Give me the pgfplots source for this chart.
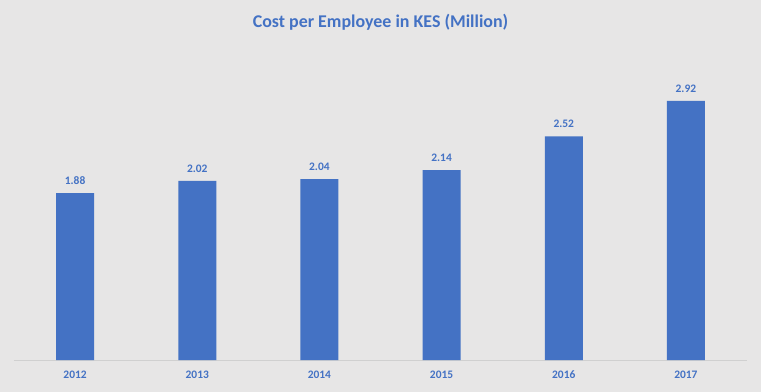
\documentclass[border=0pt]{standalone}
\usepackage{pgfplots}
\pgfplotsset{compat=1.18}
\usepackage{fontspec}
\setmainfont{Carlito}
\definecolor{bg}{HTML}{E7E6E6}
\definecolor{barblue}{HTML}{4472C4}
\definecolor{axgray}{HTML}{D0D0D0}
\begin{document}
\begin{tikzpicture}
\fill[bg] (-14bp,-32bp) rectangle (747bp,360bp);
\begin{axis}[
  scale only axis,
  width=733bp, height=292.71bp,
  xmin=-0.5, xmax=5.5, ymin=0, ymax=3.3,
  axis line style={draw=none},
  axis x line*=bottom,
  axis y line=none,
  xtick=data,
  xticklabels={2012,2013,2014,2015,2016,2017},
  xtick style={draw=none},
  xticklabel style={font=\bfseries\fontsize{11.5}{13}\selectfont, text=barblue, yshift=-7bp},
  ytick=\empty,
  clip=false,
  title={\bfseries Cost per Employee in KES (Million)},
  title style={font=\bfseries\fontsize{18}{20}\selectfont, text=barblue, at={(0.5,1)}, anchor=center, yshift=39bp},
  nodes near coords,
  nodes near coords style={font=\bfseries\fontsize{11.5}{13}\selectfont, text=barblue, yshift=5bp, /pgf/number format/.cd, fixed, fixed zerofill, precision=2, assume math mode=true},
]
\draw[axgray, line width=0.75bp] (axis cs:-0.5,0) -- (axis cs:5.5,0);
\addplot[ybar, bar width=38bp, fill=barblue, draw=none] coordinates {(0,1.88) (1,2.02) (2,2.04) (3,2.14) (4,2.52) (5,2.92)};
\end{axis}
\end{tikzpicture}
\end{document}
